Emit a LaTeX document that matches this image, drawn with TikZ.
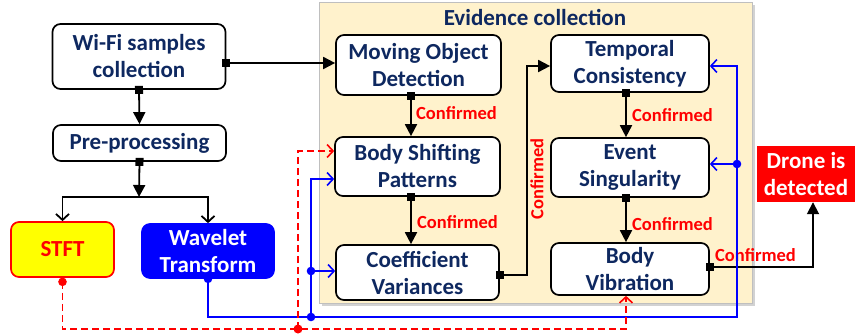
\documentclass[tikz,border=0pt]{standalone}
\usepackage{fontspec}
\setmainfont{Carlito}
\usetikzlibrary{arrows.meta,shadows,positioning}
\definecolor{navy}{RGB}{14,40,96}
\definecolor{evfill}{RGB}{255,242,204}
\definecolor{myblue}{RGB}{0,0,255}
\definecolor{myred}{RGB}{255,0,0}
\definecolor{myyellow}{RGB}{255,255,0}
\begin{document}
\begin{tikzpicture}[x=1pt,y=-1pt,
  every node/.style={font=\bfseries\fontsize{23}{27}\selectfont, inner sep=0pt, align=center},
  box/.style={draw=black, line width=1.7pt, fill=white, rounded corners=8pt, text=navy},
  lab/.style={font=\bfseries\fontsize{18.5}{20}\selectfont, text=myred},
  con/.style={line width=1.8pt, black},
  sq/.style={{Square[length=8pt,width=8pt]}-{Triangle[length=12pt,width=12pt]}, shorten <=-4pt},
  opn/.style={-{Straight Barb[length=6pt,width=13pt]}},
  bl/.style={line width=1.6pt, myblue},
  rd/.style={line width=1.6pt, myred, dash pattern=on 7pt off 4pt},
]
\useasboundingbox (0,0) rectangle (857,335);

% evidence collection panel
\node[draw=black!25, line width=0.8pt, fill=evfill, minimum width=433pt, minimum height=301pt,
  drop shadow={shadow xshift=3pt, shadow yshift=-3pt, fill=black!35, opacity=0.5}] (ev) at (535.5,152.5) {};
\node[text=navy] (evt) at (535,17) {Evidence collection};

% nodes
\node[box, minimum width=173pt, minimum height=65pt] (wifi) at (139,56.5) {Wi-Fi samples\\collection};
\node[box, minimum width=173pt, minimum height=36pt] (pre) at (139.5,143) {Pre-processing};
\node[draw=myred, line width=1.7pt, fill=myyellow, rounded corners=8pt, text=myred, minimum width=103pt, minimum height=55pt] (stft) at (62.5,249.5) {STFT};
\node[draw=myblue, line width=1.7pt, fill=myblue, rounded corners=8pt, text=white, minimum width=132pt, minimum height=54pt] (wave) at (208,251) {Wavelet\\Transform};
\node[box, minimum width=165pt, minimum height=60pt] (mod) at (418.5,65) {Moving Object\\Detection};
\node[box, minimum width=165pt, minimum height=59pt] (bsp) at (417.5,166.5) {Body Shifting\\Patterns};
\node[box, minimum width=163pt, minimum height=55pt] (cv) at (417.5,272.5) {Coefficient\\Variances};
\node[box, minimum width=158pt, minimum height=57pt] (tc) at (630,63.5) {Temporal\\Consistency};
\node[box, minimum width=158pt, minimum height=59pt] (es) at (630,167.5) {Event\\Singularity};
\node[box, minimum width=158pt, minimum height=52pt] (bv) at (630,269) {Body\\Vibration};
\node[fill=myred, text=white, minimum width=98pt, minimum height=56pt] (drone) at (806,174) {Drone is\\detected};

% helper coordinates
\coordinate (jpre) at (139,197);
\coordinate (jb) at (311,317);
\coordinate (jr) at (298,329);
\coordinate (br) at (737,317);
\coordinate (bes) at (737,164);

% black connectors
\draw[con, sq] ([yshift=-6.5pt]wifi.east) -- ([yshift=2pt]mod.west);
\draw[con, sq] (wifi.south) -- (pre.north);
\draw[con, sq] (pre.south) -- (jpre);
\draw[con, opn] (jpre) -| (stft.north);
\draw[con, opn] (jpre) -| (wave.north);
\draw[con, sq] ([xshift=-7.5pt]mod.south) -- ([xshift=-6.5pt]bsp.north);
\draw[con, sq] ([xshift=-6.5pt]bsp.south) -- ([xshift=-6.5pt]cv.north);
\draw[con, sq] ([yshift=-2.5pt]cv.east) -| (527,66) -- ([yshift=-2.5pt]tc.west);
\draw[con, sq] ([xshift=-4pt]tc.south) -- ([xshift=-4pt]es.north);
\draw[con, sq] ([xshift=-4pt]es.south) -- ([xshift=-4pt]bv.north);
\draw[con, sq] ([yshift=2pt]bv.east) -| ([xshift=7pt]drone.south);

% labels
\node[lab, anchor=west] (l1) at (416,113) {Confirmed};
\node[lab, anchor=west] (l2) at (417,222) {Confirmed};
\node[lab, rotate=90] (l3) at (537,179) {Confirmed};
\node[lab, anchor=west] (l4) at (632,115) {Confirmed};
\node[lab, anchor=west] (l5) at (632,224) {Confirmed};
\node[lab, anchor=west] (l6) at (715,255) {Confirmed};

% blue connectors
\draw[bl, opn] (wave.south) |- (br) |- ([yshift=-2.5pt]tc.east);
\draw[bl, opn] (bes) -- (bes -| es.east);
\draw[bl, opn] (jb) |- ([yshift=-12.5pt]bsp.west);
\draw[bl, opn] (jb |- 0,271) -- (cv.west |- 0,271);
\fill[myblue] (wave.south) circle (4.3pt);
\fill[myblue] (jb) circle (4.3pt);
\fill[myblue] (311,271) circle (4.3pt);
\fill[myblue] (bes) circle (4.3pt);

% red dashed connectors
\coordinate (bvin) at ([xshift=-4pt]bv.south);
\draw[rd, opn] ([yshift=-4pt]stft.south) |- (bvin |- jr) -- (bvin);
\draw[rd, opn] (jr) |- ([yshift=15.5pt]bsp.west);
\fill[myred] ([yshift=-4pt]stft.south) circle (4.3pt);
\fill[myred] (jr) circle (4.5pt);
\end{tikzpicture}
\end{document}
